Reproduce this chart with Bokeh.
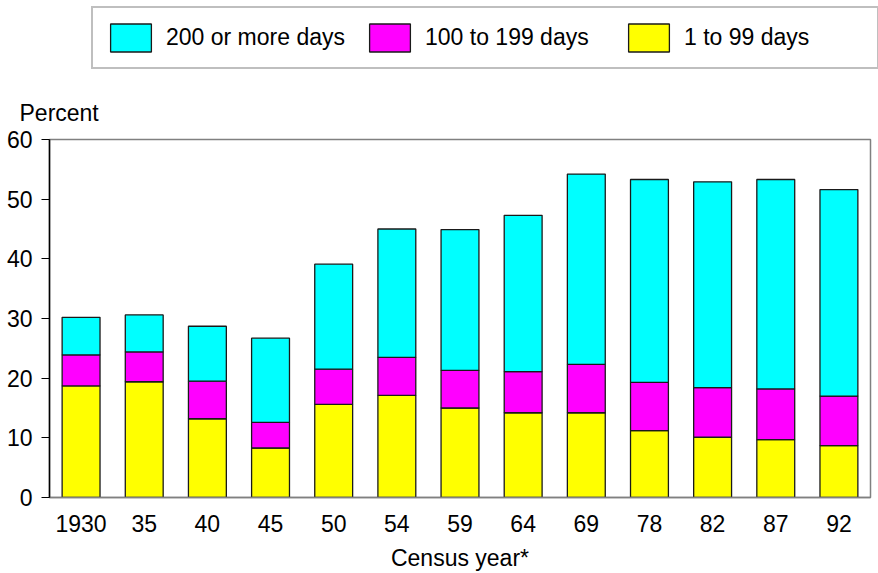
from bokeh.plotting import figure
from bokeh.layouts import column
from bokeh.models import (Legend, LegendItem, Label, FixedTicker,
                          Range1d, FactorRange, ColumnDataSource)
from bokeh.embed import file_html
from bokeh.resources import INLINE

# ---- data ----
years = ["1930", "35", "40", "45", "50", "54", "59", "64", "69", "78", "82", "87", "92"]
days_1_99 = [18.7, 19.4, 13.2, 8.3, 15.6, 17.1, 15.0, 14.2, 14.2, 11.2, 10.1, 9.7, 8.7]
days_100_199 = [5.2, 5.0, 6.3, 4.3, 5.9, 6.4, 6.3, 6.9, 8.1, 8.1, 8.3, 8.5, 8.3]
days_200_plus = [6.3, 6.2, 9.2, 14.1, 17.6, 21.5, 23.6, 26.2, 31.9, 34.0, 34.5, 35.1, 34.6]
series_names = ["1 to 99 days", "100 to 199 days", "200 or more days"]
series_colors = ["#FFFF00", "#FF00FF", "#00FFFF"]
y_ticks = [0, 10, 20, 30, 40, 50, 60]

FONT = "Liberation Sans"
FS = "23px"
BAR_LINE = dict(line_color="#1a1a1a", line_width=1.3)

source = ColumnDataSource(dict(year=years, d1=days_1_99, d2=days_100_199, d3=days_200_plus))

# ---------------- header strip: legend + "Percent" ----------------
top = figure(x_range=FactorRange(*years), y_range=Range1d(0, 60),
             width=878, height=125, output_backend="svg", toolbar_location=None,
             x_axis_location=None, y_axis_location=None,
             min_border_left=0, min_border_right=0, min_border_top=0, min_border_bottom=0)
top.frame_align = False
top.xgrid.visible = False
top.ygrid.visible = False
top.outline_line_color = None
key_renderers = top.vbar_stack(["d1", "d2", "d3"], x="year", width=0.6, source=source,
                               fill_color=series_colors, **BAR_LINE)
for r in key_renderers:
    r.visible = False

legend = Legend(items=[LegendItem(label=series_names[i], renderers=[key_renderers[i]])
                       for i in (2, 1, 0)],
                location=(91, 56.5), orientation="horizontal",
                glyph_width=51, glyph_height=35, label_standoff=10, label_width=181,
                label_height=27, spacing=17, padding=12, margin=0,
                border_line_color="#808080", border_line_width=2,
                background_fill_alpha=0, inactive_fill_alpha=0,
                label_text_font=FONT, label_text_font_size=FS, label_text_color="black")
top.add_layout(legend)

top.add_layout(Label(x=19, y=13, x_units="screen", y_units="screen", text="Percent",
                     text_font=FONT, text_font_size=FS, text_baseline="middle",
                     text_color="black"))

# ---------------- main chart ----------------
p = figure(x_range=FactorRange(*years), y_range=Range1d(0, 60),
           width=878, height=448, output_backend="svg", toolbar_location=None,
           min_border_left=49, min_border_right=8, min_border_top=14, min_border_bottom=76)
p.frame_align = False

p.vbar_stack(["d1", "d2", "d3"], x="year", width=0.6, source=source,
             fill_color=series_colors, **BAR_LINE)

p.xgrid.visible = False
p.ygrid.visible = False
p.outline_line_color = "#808080"
p.outline_line_width = 1.5

ya = p.yaxis[0]
ya.ticker = FixedTicker(ticks=y_ticks)
ya.major_tick_out = 8
ya.major_tick_in = 0
ya.minor_tick_line_color = None
ya.axis_line_color = "black"
ya.axis_line_width = 1.5
ya.major_tick_line_color = "black"
ya.major_label_standoff = 9
ya.major_label_text_font = FONT
ya.major_label_text_font_size = FS
ya.major_label_text_color = "black"

xa = p.xaxis[0]
xa.major_tick_line_color = None
xa.major_tick_out = 0
xa.axis_line_color = "#808080"
xa.axis_line_width = 1.5
xa.major_label_standoff = 17
xa.major_label_text_font = FONT
xa.major_label_text_font_size = FS
xa.major_label_text_color = "black"
xa.axis_label = "Census year*"
xa.axis_label_text_font = FONT
xa.axis_label_text_font_size = FS
xa.axis_label_text_font_style = "normal"
xa.axis_label_text_color = "black"
xa.axis_label_standoff = 10

layout = column(top, p, spacing=0)
open("out.html", "w").write(file_html(layout, INLINE))
